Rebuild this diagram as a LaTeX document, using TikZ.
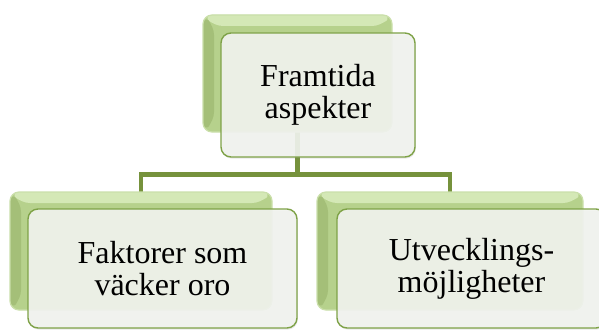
\documentclass[tikz,border=0pt]{standalone}
\usepackage{fontspec}
\setmainfont{Liberation Serif}
\usetikzlibrary{shadows}
\pgfdeclarelayer{background}
\pgfsetlayers{background,main}

\definecolor{conncol}{HTML}{76923C}
\definecolor{frameedge}{HTML}{7EA247}
\definecolor{framefill}{HTML}{F2F4F0}
\definecolor{backmid}{HTML}{B6D18C}
\definecolor{backtop}{HTML}{D4E8B6}
\definecolor{backleft}{HTML}{A4BF78}
\definecolor{backrim}{HTML}{CADFAA}

\tikzset{
  backbox/.style={
    rounded corners=9pt, inner sep=0pt, outer sep=0pt,
    fill=backmid, draw=backrim, line width=1.2pt,
    path picture={
      \fill[backtop]
        (path picture bounding box.north west) --
        (path picture bounding box.north east) --
        ([xshift=-11pt,yshift=-11pt]path picture bounding box.north east) --
        ([xshift=11pt,yshift=-11pt]path picture bounding box.north west) -- cycle;
      \fill[backleft]
        (path picture bounding box.north west) --
        ([xshift=11pt,yshift=-11pt]path picture bounding box.north west) --
        ([xshift=11pt,yshift=11pt]path picture bounding box.south west) --
        (path picture bounding box.south west) -- cycle;
    }},
  frontbox/.style={
    rounded corners=10pt, inner sep=0pt, outer sep=0pt,
    draw=frameedge, line width=1.4pt,
    fill=framefill, fill opacity=0.9, text opacity=1,
    drop shadow={opacity=0.18, shadow xshift=0.8pt, shadow yshift=-1.6pt},
    align=center,
    font=\fontsize{32}{32}\selectfont},
  conn/.style={draw=conncol, line width=4.5pt, line join=miter}
}

\begin{document}
\begin{tikzpicture}[x=1pt, y=-1pt]
  \useasboundingbox (0,0) rectangle (599,329);

  % green backing plates
  \node[backbox, minimum width=189pt, minimum height=117pt] (topback)   at (297.5,73.5) {};
  \node[backbox, minimum width=262pt, minimum height=118pt] (leftback)  at (141,251)   {};
  \node[backbox, minimum width=266pt, minimum height=118pt] (rightback) at (450,251)   {};

  % hierarchy connectors, behind everything
  \coordinate (hub) at (297.5,174.5);
  \begin{pgfonlayer}{background}
    \draw[conn] (topback.south) -- (hub);
    \draw[conn] (leftback.north) |- (hub) -| (rightback.north);
  \end{pgfonlayer}

  % text cards
  \node[frontbox, minimum width=194pt, minimum height=124pt] (top)   at (318,95)      {Framtida\\aspekter};
  \node[frontbox, minimum width=269pt, minimum height=119pt] (left)  at (162.5,268.5) {Faktorer som\\väcker oro};
  \node[frontbox, minimum width=269pt, minimum height=119pt] (right) at (471.5,268.5) {Utvecklings-\\möjligheter};
\end{tikzpicture}
\end{document}
